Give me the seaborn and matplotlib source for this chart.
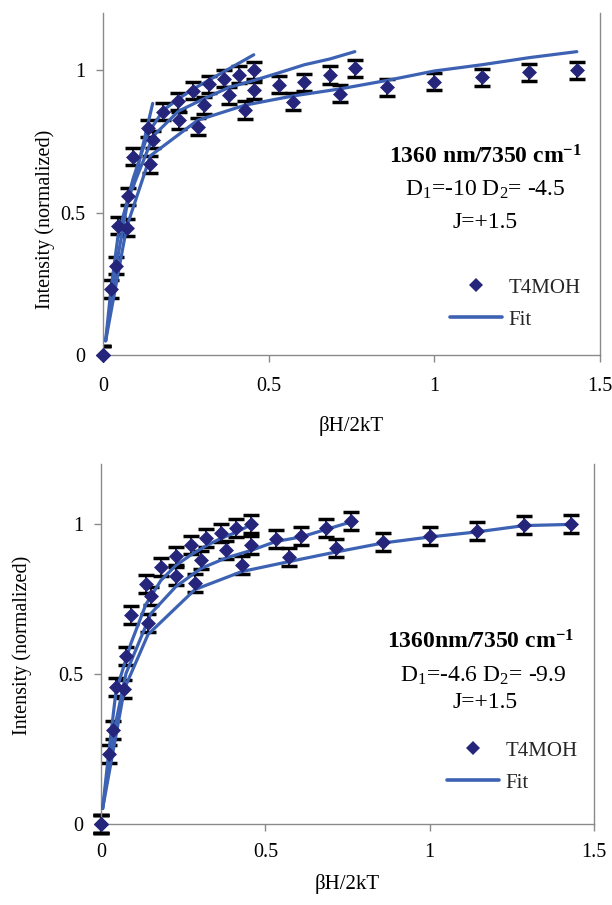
import numpy as np
import pandas as pd
import matplotlib
matplotlib.use('Agg')
import matplotlib.pyplot as plt
from matplotlib.lines import Line2D
import seaborn as sns

# ---------------- data ----------------
series_names = ['A', 'B', 'C']

xA = [0, 0.023, 0.0455, 0.091, 0.1365, 0.182, 0.2275, 0.273, 0.3185, 0.364, 0.4095, 0.455]
yA = [0, 0.232, 0.455, 0.696, 0.797, 0.855, 0.891, 0.928, 0.952, 0.970, 0.985, 1.000]
eA = [0.03] * 12

xB = [0, 0.038, 0.076, 0.152, 0.228, 0.304, 0.38, 0.456, 0.532, 0.608, 0.684, 0.76]
yB = [0, 0.313, 0.558, 0.757, 0.825, 0.877, 0.913, 0.930, 0.950, 0.958, 0.984, 1.008]
eB = [0.03] * 12

xC = [0, 0.0715, 0.143, 0.286, 0.429, 0.572, 0.715, 0.858, 1.0, 1.144, 1.287, 1.43]
yC = [0, 0.448, 0.670, 0.802, 0.861, 0.890, 0.918, 0.940, 0.960, 0.976, 0.994, 1.000]
eC = [0.03] * 12

# fits, top panel (D1=-10, D2=-4.5)
top_fitA_x = [0.008, 0.023, 0.0455, 0.091, 0.1365, 0.182, 0.2275, 0.273, 0.3185, 0.364, 0.4095, 0.455]
top_fitA_y = [0.05, 0.22, 0.42, 0.62, 0.78, 0.86, 0.90, 0.935, 0.965, 0.995, 1.025, 1.055]
top_fitB_x = [0.008, 0.038, 0.076, 0.152, 0.228, 0.304, 0.38, 0.456, 0.532, 0.608, 0.684, 0.76]
top_fitB_y = [0.05, 0.30, 0.55, 0.77, 0.857, 0.90, 0.94, 0.965, 0.992, 1.02, 1.04, 1.066]
top_fitC_x = [0.008, 0.0715, 0.143, 0.286, 0.429, 0.572, 0.715, 0.858, 1.0, 1.144, 1.287, 1.43]
top_fitC_y = [0.05, 0.45, 0.70, 0.825, 0.878, 0.91, 0.935, 0.965, 0.998, 1.02, 1.045, 1.066]
top_fitD_x = [0.091, 0.15]
top_fitD_y = [0.59, 0.884]

# fits, bottom panel (D1=-4.6, D2=-9.9)
bot_fitA_x = [0.005, 0.023, 0.0455, 0.091, 0.1365, 0.182, 0.2275, 0.273, 0.3185, 0.364, 0.4095, 0.455]
bot_fitA_y = [0.05, 0.23, 0.44, 0.60, 0.73, 0.81, 0.86, 0.895, 0.925, 0.95, 0.97, 0.995]
bot_fitB_x = [0.005, 0.038, 0.076, 0.152, 0.228, 0.304, 0.38, 0.456, 0.532, 0.608, 0.684, 0.76]
bot_fitB_y = [0.05, 0.30, 0.50, 0.70, 0.79, 0.85, 0.885, 0.91, 0.94, 0.955, 0.98, 1.005]
bot_fitC_x = [0.005, 0.0715, 0.143, 0.286, 0.429, 0.572, 0.715, 0.858, 1.0, 1.144, 1.287, 1.43]
bot_fitC_y = [0.05, 0.45, 0.63, 0.78, 0.84, 0.873, 0.905, 0.935, 0.955, 0.972, 0.993, 0.997]

x_ticks = [0, 0.5, 1, 1.5]
x_ticklabels = ['0', '0.5', '1', '1.5']
y_ticks = [0, 0.5, 1]
y_ticklabels = ['0', '0.5', '1']
legend_labels = ['T4MOH', 'Fit']

top_text = [r'1360 nm/7350 cm$^{\mathbf{-1}}$', r'D$_1$=-10 D$_2$= -4.5', 'J=+1.5']
bot_text = [r'1360nm/7350 cm$^{\mathbf{-1}}$', r'D$_1$=-4.6 D$_2$= -9.9', 'J=+1.5']

# ---------------- frames ----------------
pts = pd.concat([
    pd.DataFrame({'x': xA, 'y': yA, 'err': eA, 'series': 'A'}),
    pd.DataFrame({'x': xB, 'y': yB, 'err': eB, 'series': 'B'}),
    pd.DataFrame({'x': xC, 'y': yC, 'err': eC, 'series': 'C'}),
], ignore_index=True)

top_fit = pd.concat([
    pd.DataFrame({'x': top_fitA_x, 'y': top_fitA_y, 'series': 'A'}),
    pd.DataFrame({'x': top_fitB_x, 'y': top_fitB_y, 'series': 'B'}),
    pd.DataFrame({'x': top_fitC_x, 'y': top_fitC_y, 'series': 'C'}),
    pd.DataFrame({'x': top_fitD_x, 'y': top_fitD_y, 'series': 'D'}),
], ignore_index=True)

bot_fit = pd.concat([
    pd.DataFrame({'x': bot_fitA_x, 'y': bot_fitA_y, 'series': 'A'}),
    pd.DataFrame({'x': bot_fitB_x, 'y': bot_fitB_y, 'series': 'B'}),
    pd.DataFrame({'x': bot_fitC_x, 'y': bot_fitC_y, 'series': 'C'}),
], ignore_index=True)

# ---------------- style ----------------
sns.set_theme(style='white')
plt.rcParams['font.family'] = ['Liberation Serif', 'DejaVu Serif']
plt.rcParams['mathtext.fontset'] = 'custom'
plt.rcParams['mathtext.rm'] = 'Liberation Serif'
plt.rcParams['mathtext.it'] = 'Liberation Serif:italic'
plt.rcParams['mathtext.bf'] = 'Liberation Serif:bold'

MARKER = '#25257C'
LINE = '#3D62B4'
AXC = '#8A8A8A'

W, H = 612, 905
fig = plt.figure(figsize=(W / 100, H / 100), dpi=100)


def rect(l, t, r, b):
    return [l / W, 1 - b / H, (r - l) / W, (b - t) / H]


ax1 = fig.add_axes(rect(103, 13.5, 600, 355))
ax2 = fig.add_axes(rect(101, 463.5, 594, 823.5))


def draw(ax, fit_df, clip_err, xlabel_y, ylabel_x, ylabel_y, xpad, leg_xy):
    eb = ax.errorbar(pts['x'], pts['y'], yerr=pts['err'], fmt='none', ecolor='black',
                     elinewidth=1.3, capsize=5.6, capthick=2.5, zorder=2)
    for art in list(eb.lines[1]) + list(eb.lines[2]):
        art.set_clip_on(clip_err)
    sns.lineplot(data=fit_df, x='x', y='y', units='series', estimator=None, sort=False,
                 color=LINE, lw=2.3, ax=ax, zorder=3, legend=False)
    sns.scatterplot(data=pts, x='x', y='y', marker='D', s=58, color=MARKER,
                    edgecolor=MARKER, linewidth=0, ax=ax, zorder=4, legend=False,
                    clip_on=False)
    ax.set_xlim(0, 1.5)
    ax.set_ylim(0, 1.2)
    ax.set_xticks(x_ticks)
    ax.set_xticklabels(x_ticklabels)
    ax.set_yticks(y_ticks)
    ax.set_yticklabels(y_ticklabels)
    ax.tick_params(axis='both', which='major', bottom=True, left=True, direction='out',
                   length=5, width=1, color=AXC, labelsize=14.5, labelcolor='black')
    ax.tick_params(axis='x', pad=xpad)
    ax.tick_params(axis='y', pad=8)
    for side in ['left', 'bottom', 'right']:
        ax.spines[side].set_visible(True)
        ax.spines[side].set_color(AXC)
        ax.spines[side].set_linewidth(1)
    ax.spines['top'].set_visible(False)
    ax.set_xlabel('βH/2kT', fontsize=15, color='black')
    ax.xaxis.set_label_coords(0.5, xlabel_y)
    ax.set_ylabel('Intensity (normalized)', fontsize=14.5, color='black')
    ax.yaxis.set_label_coords(ylabel_x, ylabel_y)
    handles = [Line2D([], [], marker='D', ls='none', color=MARKER, markersize=7.6, mew=0),
               Line2D([], [], color=LINE, lw=2.6)]
    ax.legend(handles, legend_labels, loc='upper left',
              bbox_to_anchor=(leg_xy[0] / W, 1 - leg_xy[1] / H), bbox_transform=fig.transFigure,
              frameon=False, borderpad=0, borderaxespad=0, handlelength=2.5,
              handletextpad=0.3, labelspacing=0.6, fontsize=15)


draw(ax1, top_fit, True, -0.18, -0.097, 0.396, 11, (450, 278))
draw(ax2, bot_fit, False, -0.14, -0.14, 0.496, 9, (447, 741))

# annotations
for txt, (cx, cy), bold in zip(top_text, [(485, 157), (485, 190), (485, 222)], [True, False, False]):
    fig.text(cx / W, 1 - cy / H, txt, ha='center', va='center', fontsize=17,
             fontweight='bold' if bold else 'normal', color='black')
for txt, (cx, cy), bold in zip(bot_text, [(480, 642), (483, 676), (485, 703)], [True, False, False]):
    fig.text(cx / W, 1 - cy / H, txt, ha='center', va='center', fontsize=17,
             fontweight='bold' if bold else 'normal', color='black')

fig.savefig('out.png', dpi=100)
